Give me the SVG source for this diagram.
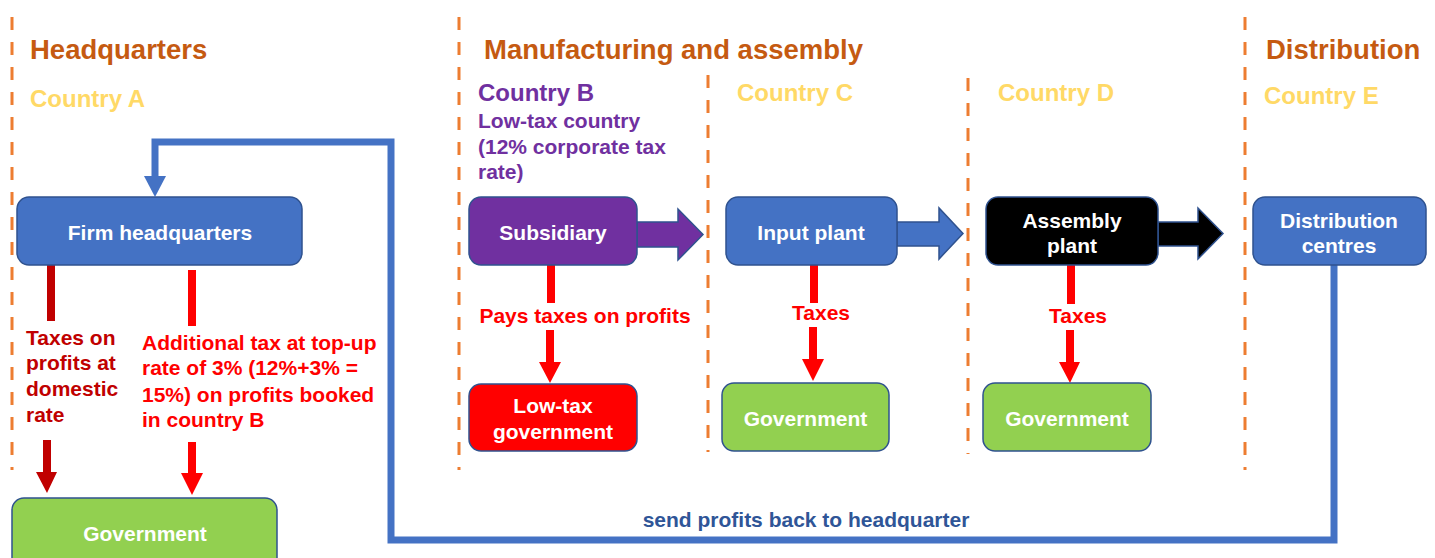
<svg xmlns="http://www.w3.org/2000/svg" width="1435" height="558" viewBox="0 0 1435 558">
  <style>
    text { font-family: "Liberation Sans", Arial, sans-serif; font-weight: bold; }
    .head { font-size: 27.5px; fill: #C55A11; }
    .country { font-size: 24px; fill: #FFD966; }
    .purple { fill: #7030A0; }
    .note { font-size: 21px; }
    .label { font-size: 21px; fill: #FFFFFF; text-anchor: middle; }
    .divider { stroke: #ED7D31; stroke-width: 3; stroke-dasharray: 13 12; fill: none; }
    .box { stroke: #2F528F; stroke-width: 1.5; }
    .blue { fill: #4472C4; }
    .green { fill: #92D050; }
    .red { fill: #FF0000; }
    .dred { fill: #C00000; }
    .black { fill: #000000; }
    .vio { fill: #7030A0; }
  </style>

  <!-- region dividers -->
  <g id="dividers">
    <line class="divider" x1="12" y1="17" x2="12" y2="470"/>
    <line class="divider" x1="459" y1="17" x2="459" y2="470"/>
    <line class="divider" x1="708" y1="75" x2="708" y2="452"/>
    <line class="divider" x1="968" y1="78" x2="968" y2="454"/>
    <line class="divider" x1="1245" y1="17" x2="1245" y2="470"/>
  </g>

  <!-- region headings -->
  <g id="headings">
    <text class="head" x="30" y="59">Headquarters</text>
    <text class="head" x="484" y="59">Manufacturing and assembly</text>
    <text class="head" x="1266" y="59">Distribution</text>
    <text class="country" x="30" y="107">Country A</text>
    <text class="country purple" x="478" y="101">Country B</text>
    <text class="note purple" x="478" y="128">Low-tax country</text>
    <text class="note purple" x="478" y="154">(12% corporate tax</text>
    <text class="note purple" x="478" y="179">rate)</text>
    <text class="country" x="737" y="101">Country C</text>
    <text class="country" x="998" y="101">Country D</text>
    <text class="country" x="1264" y="104">Country E</text>
  </g>

  <!-- connectors -->
  <g id="connectors">
    <!-- profits returned to headquarters -->
    <polyline points="1334,265 1334,540 391,540 391,142 155,142 155,178" fill="none" stroke="#4472C4" stroke-width="7" stroke-linejoin="miter"/>
    <polygon points="144,176 166,176 155,197" fill="#4472C4"/>
    <text x="806" y="527" font-size="21" fill="#2F5597" text-anchor="middle">send profits back to headquarter</text>

    <!-- block arrows along the production chain -->
    <polygon class="box vio" points="637,222 678,222 678,209 703,234.5 678,260 678,247 637,247"/>
    <polygon class="box blue" points="897,222 939,222 939,208 963,233.5 939,259 939,246 897,246"/>
    <polygon class="box black" points="1158,222 1198,222 1198,208 1223,233.5 1198,259 1198,246 1158,246"/>

    <!-- headquarters: domestic tax -->
    <rect class="dred" x="47" y="265" width="8" height="56"/>
    <path class="dred" d="M43,440 H51 V472 H57 L47,493 L36,472 H43 Z"/>
    <g class="note dred">
      <text x="26" y="345">Taxes on</text>
      <text x="26" y="370">profits at</text>
      <text x="26" y="396">domestic</text>
      <text x="26" y="422">rate</text>
    </g>

    <!-- headquarters: top-up tax -->
    <rect class="red" x="188" y="270" width="8" height="56"/>
    <path class="red" d="M188,442 H196 V473 H203 L192,495 L181,473 H188 Z"/>
    <g class="note red">
      <text x="142" y="350">Additional tax at top-up</text>
      <text x="142" y="375">rate of 3% (12%+3% =</text>
      <text x="142" y="402">15%) on profits booked</text>
      <text x="142" y="427">in country B</text>
    </g>

    <!-- subsidiary taxes -->
    <rect class="red" x="547" y="265" width="8" height="38"/>
    <text class="note red" x="585" y="323" text-anchor="middle">Pays taxes on profits</text>
    <path class="red" d="M546,330 H554 V362 H561 L550,383 L539,362 H546 Z"/>

    <!-- input plant taxes -->
    <rect class="red" x="810" y="265" width="8" height="38"/>
    <text class="note red" x="821" y="320" text-anchor="middle">Taxes</text>
    <path class="red" d="M809,327 H817 V359 H824 L813,381 L802,359 H809 Z"/>

    <!-- assembly plant taxes -->
    <rect class="red" x="1067" y="265" width="8" height="39"/>
    <text class="note red" x="1078" y="323" text-anchor="middle">Taxes</text>
    <path class="red" d="M1066,330 H1074 V362 H1080 L1070,383 L1059,362 H1066 Z"/>
  </g>

  <!-- nodes -->
  <g id="firm-headquarters">
    <rect class="box blue" x="17" y="197" width="285" height="68" rx="12"/>
    <text class="label" x="160" y="240">Firm headquarters</text>
  </g>
  <g id="government-a">
    <rect class="box green" x="12" y="498" width="265" height="80" rx="12"/>
    <text class="label" x="145" y="541">Government</text>
  </g>
  <g id="subsidiary">
    <rect class="box vio" x="469" y="197" width="168" height="68" rx="12"/>
    <text class="label" x="553" y="240">Subsidiary</text>
  </g>
  <g id="low-tax-government">
    <rect class="box red" x="469" y="384" width="168" height="67" rx="12"/>
    <text class="label" x="553" y="413">Low-tax</text>
    <text class="label" x="553" y="439">government</text>
  </g>
  <g id="input-plant">
    <rect class="box blue" x="726" y="197" width="171" height="68" rx="12"/>
    <text class="label" x="811" y="240">Input plant</text>
  </g>
  <g id="government-c">
    <rect class="box green" x="722" y="383" width="167" height="68" rx="12"/>
    <text class="label" x="805.5" y="426">Government</text>
  </g>
  <g id="assembly-plant">
    <rect class="box black" x="986" y="197" width="172" height="68" rx="12"/>
    <text class="label" x="1072" y="228">Assembly</text>
    <text class="label" x="1072" y="253">plant</text>
  </g>
  <g id="government-d">
    <rect class="box green" x="983" y="383" width="168" height="68" rx="12"/>
    <text class="label" x="1067" y="426">Government</text>
  </g>
  <g id="distribution-centres">
    <rect class="box blue" x="1253" y="197" width="173" height="68" rx="12"/>
    <text class="label" x="1339" y="228">Distribution</text>
    <text class="label" x="1339" y="253">centres</text>
  </g>
</svg>
